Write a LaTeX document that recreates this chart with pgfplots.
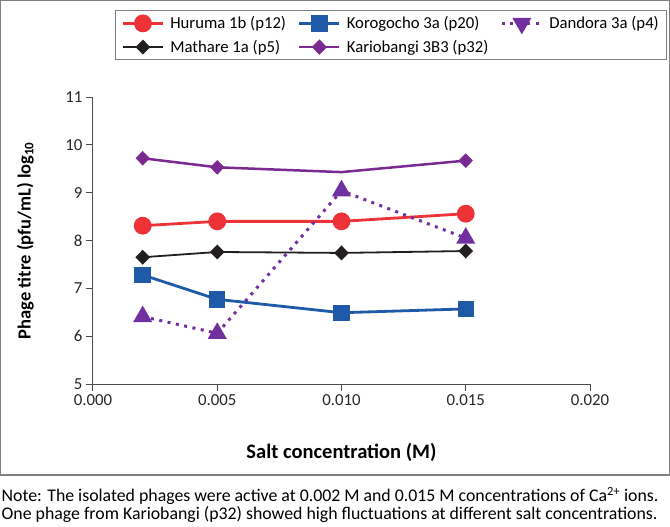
\documentclass[border=0pt]{standalone}
\usepackage{pgfplots}
\pgfplotsset{compat=1.18}
\usepackage{fontspec}
\setmainfont{Carlito}

\definecolor{huruma}{HTML}{EE3338}
\definecolor{koro}{HTML}{1F5AA8}
\definecolor{dandora}{HTML}{7030A0}
\definecolor{mathare}{HTML}{231F20}
\definecolor{kario}{HTML}{7A2A90}
\definecolor{framegray}{HTML}{808080}

\begin{document}
\begin{tikzpicture}[x=1pt,y=1pt]
\path[use as bounding box] (0,0) rectangle (670,-527);
\draw[framegray, line width=1.2pt] (0.6,-0.6) rectangle (669.4,-475);

\begin{axis}[
    at={(93pt,-384pt)}, anchor=south west,
    scale only axis,
    width=497pt, height=287pt,
    xmin=0, xmax=0.02,
    ymin=5, ymax=11,
    axis lines=left,
    axis line style={-, black!70, line width=1pt},
    tick style={black!70, line width=1pt},
    tick align=outside,
    major tick length=7pt,
    xtick={0,0.005,0.01,0.015,0.02},
    ytick={5,6,7,8,9,10,11},
    scaled x ticks=false,
    xticklabel style={/pgf/number format/.cd, fixed, fixed zerofill, precision=3},
    /pgf/number format/assume math mode=true,
    ticklabel style={font=\fontsize{16.8pt}{19pt}\selectfont, text=black!85},
    xlabel={\bfseries Salt concentration (M)},
    ylabel={\bfseries Phage titre (pfu/mL) log\textsubscript{10}},
    xlabel style={font=\fontsize{20.5pt}{23pt}\selectfont, at={(axis description cs:0.5,-0.237)}, anchor=center},
    ylabel style={font=\fontsize{18.5pt}{21pt}\selectfont, at={(axis description cs:-0.136,0.5)}, anchor=center},
    legend columns=3,
    legend cell align=left,
    legend style={at={(axis description cs:0.0443,1.3031)}, anchor=north west,
        draw=framegray, line width=1pt,
        font=\fontsize{16.7pt}{20pt}\selectfont,
        inner xsep=6pt, inner ysep=4pt, row sep=6pt,
        /tikz/every odd column/.append style={column sep=4pt},
        /tikz/every even column/.append style={column sep=10pt}},
    legend image code/.code={
        \draw[mark repeat=2,mark phase=2,#1] plot coordinates {(0pt,0pt) (20pt,0pt) (40pt,0pt)};},
]

\addplot[huruma, line width=2.8pt, mark=*, mark size=7.5pt, mark options={solid, fill=huruma, draw=huruma}]
coordinates {(0.002,8.31) (0.005,8.40) (0.010,8.40) (0.015,8.56)};
\addlegendentry{Huruma 1b (p12)}

\addplot[koro, line width=2.8pt, mark=square*, mark size=6.8pt, mark options={solid, fill=koro, draw=koro}]
coordinates {(0.002,7.28) (0.005,6.77) (0.010,6.49) (0.015,6.57)};
\addlegendentry{Korogocho 3a (p20)}

\addplot[dandora, line width=3pt, dash pattern=on 3pt off 5.5pt, mark=triangle*, mark size=8pt,
    mark options={solid, fill=dandora, draw=dandora},
    legend image code/.code={
        \draw[dandora, line width=3pt, dash pattern=on 3pt off 5.5pt, mark=triangle*, mark size=8pt,
            mark options={solid, fill=dandora, draw=dandora, rotate=180}, mark repeat=2, mark phase=2]
            plot coordinates {(0pt,0pt) (20pt,0pt) (40pt,0pt)};}]
coordinates {(0.002,6.41) (0.005,6.06) (0.010,9.04) (0.015,8.05)};
\addlegendentry{Dandora 3a (p4)}

\addplot[mathare, line width=1.8pt, mark=diamond*, mark size=6.2pt, mark options={solid, xscale=1.3, fill=mathare, draw=mathare}]
coordinates {(0.002,7.65) (0.005,7.76) (0.010,7.74) (0.015,7.78)};
\addlegendentry{Mathare 1a (p5)}

\addplot[kario, line width=2.5pt, forget plot]
coordinates {(0.002,9.72) (0.005,9.53) (0.010,9.43) (0.015,9.67)};
\addplot[kario, only marks, mark=diamond*, mark size=7pt, mark options={solid, xscale=1.3, fill=kario, draw=kario},
    legend image code/.code={
        \draw[kario, line width=2.5pt] (0pt,0pt) -- (40pt,0pt);
        \draw[kario, mark=diamond*, mark size=7pt, mark options={solid, xscale=1.3, fill=kario, draw=kario}]
            plot coordinates {(20pt,0pt)};}]
coordinates {(0.002,9.72) (0.005,9.53) (0.015,9.67)};
\addlegendentry{Kariobangi 3B3 (p32)}

\end{axis}

\node[anchor=base west, align=left, inner sep=0pt, font=\fontsize{17.8pt}{14pt}\selectfont]
    at (1.5,-519) {Note: The isolated phages were active at 0.002 M and 0.015 M concentrations of Ca\textsuperscript{2+} ions.\\
    One phage from Kariobangi (p32) showed high fluctuations at different salt concentrations.};
\end{tikzpicture}
\end{document}
